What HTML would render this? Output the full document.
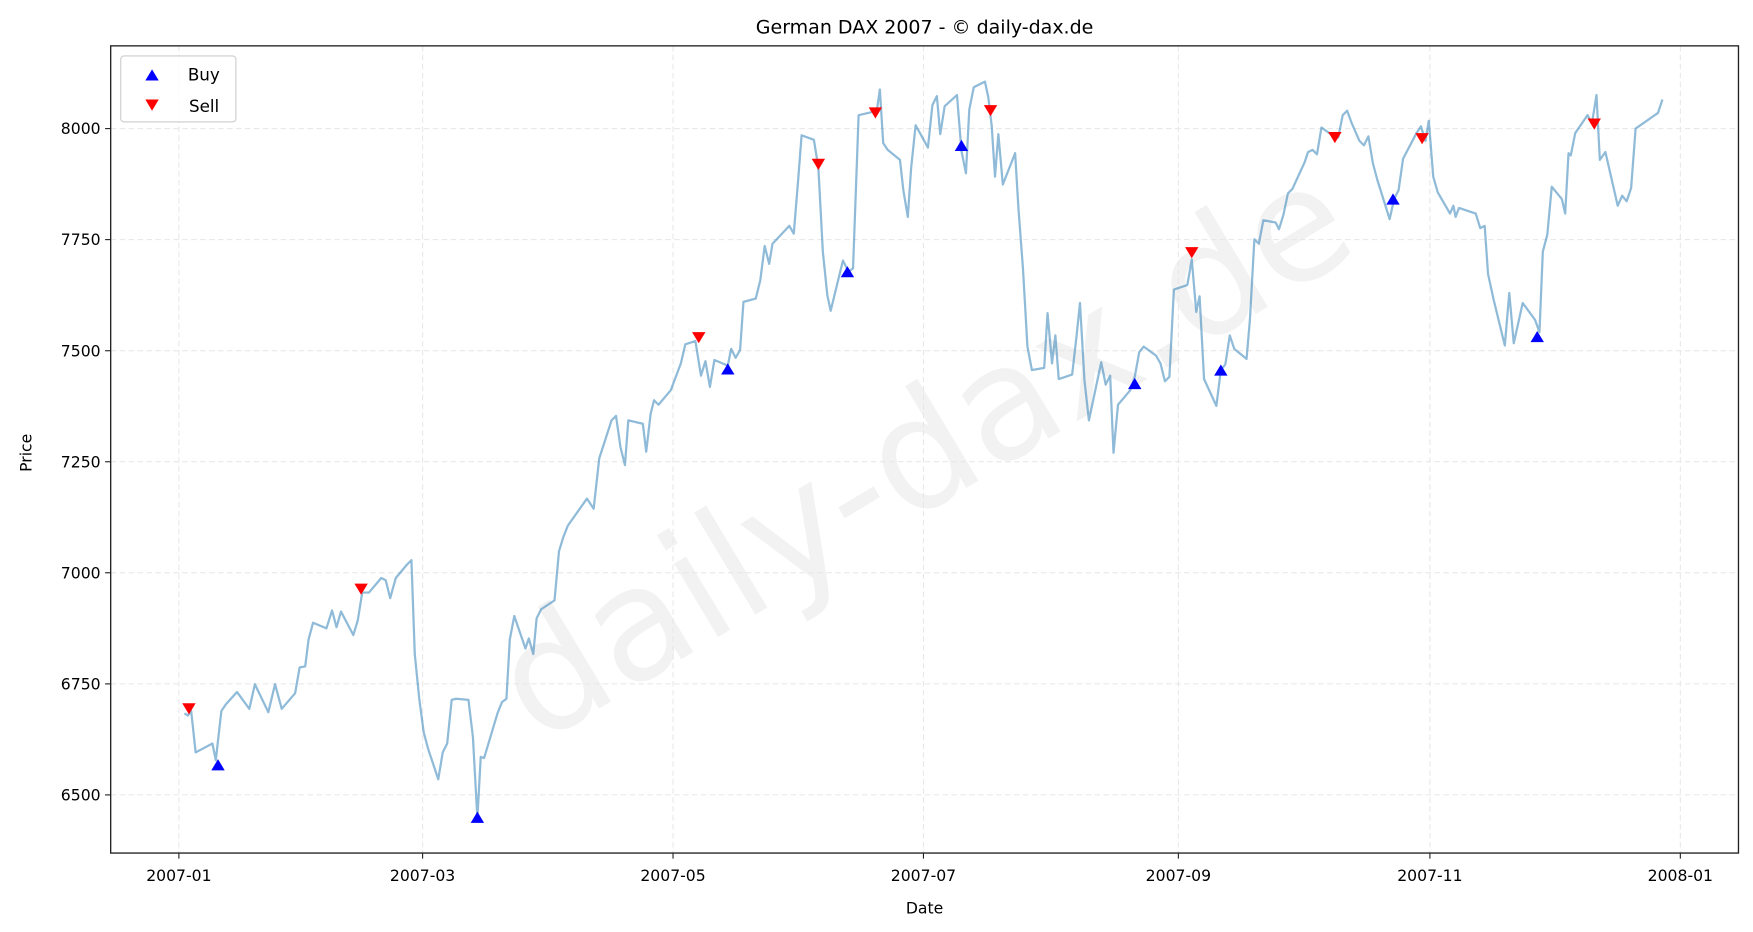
<!DOCTYPE html>
<html><head><meta charset="utf-8"><style>html,body{margin:0;padding:0;background:#fff}svg{display:block}</style></head>
<body>
<svg width="1753" height="932" viewBox="0 0 1568 833.6" xmlns="http://www.w3.org/2000/svg" font-family="DejaVu Sans, Liberation Sans, sans-serif">
<rect width="1568" height="834" fill="#fff"/>
<text x="850" y="445" font-size="140" fill="#000" fill-opacity="0.05" text-anchor="middle" transform="rotate(-31 850 445)">daily-dax.de</text>
<g stroke="#e6e6e6" stroke-dasharray="5,3" stroke-width="0.9">
<line x1="99" x2="1555" y1="711" y2="711"/><line x1="99" x2="1555" y1="611.7" y2="611.7"/><line x1="99" x2="1555" y1="512.3" y2="512.3"/><line x1="99" x2="1555" y1="413" y2="413"/><line x1="99" x2="1555" y1="313.7" y2="313.7"/><line x1="99" x2="1555" y1="214.3" y2="214.3"/><line x1="99" x2="1555" y1="115" y2="115"/>
<line y1="41" y2="763" x1="160" x2="160"/><line y1="41" y2="763" x1="378" x2="378"/><line y1="41" y2="763" x1="602" x2="602"/><line y1="41" y2="763" x1="826" x2="826"/><line y1="41" y2="763" x1="1054" x2="1054"/><line y1="41" y2="763" x1="1279" x2="1279"/><line y1="41" y2="763" x1="1503" x2="1503"/>
</g>
<polyline fill="none" stroke="#1f77b4" stroke-opacity="0.5" stroke-width="2" stroke-linejoin="round" points="165,638 168,640 171,636 175,673 190,665 193,680 198,636 202,630 212,619 223,634 228,612 240,637 246,612 252,634 264,620 268,597 273,596 276,572 280,557 292,562 297,546 301,561 305,547 316,568 320,555 324,530 330,530 341,517 345,519 349,535 354,517 364,505 368,501 371,585 375,625 379,655 383,670 392,697 396,673 400,665 404,626 408,625 419,626 423,659 427,732 430,677 433,678 445,638 449,628 453,625 456,572 460,551 470,580 473,571 477,585 480,553 484,545 496,537 500,493 504,480 508,470 525,446 531,455 536,410 547,376 551,372 555,400 559,416 562,376 575,379 578,404 582,370 585,358 589,362 600,349 609,325 613,308 622,305 627,336 631,323 635,346 639,322 651,327 654,312 658,320 662,313 665,270 676,267 680,251 684,220 688,236 691,218 706,202 710,209 714,160 717,121 728,125 732,150 736,225 740,264 743,278 754,233 759,243 763,240 768,103 781,100 784,101 787,80 790,128 794,134 805,143 808,170 812,194 815,150 819,112 830,132 834,94 838,86 841,120 845,95 856,85 860,135 864,155 867,98 871,78 881,73 884,87 887,112 890,158 893,120 897,165 908,137 911,187 915,240 919,310 923,331 934,329 937,280 941,325 944,300 947,339 959,335 963,300 966,271 970,340 974,376 985,324 989,344 993,336 996,405 1000,362 1011,349 1015,337 1019,315 1023,310 1034,318 1038,325 1042,341 1046,337 1050,259 1062,255 1066,232 1070,279 1073,265 1077,339 1088,363 1092,331 1096,326 1100,300 1104,312 1115,321 1118,286 1122,214 1126,218 1130,197 1141,199 1144,205 1148,192 1152,173 1156,169 1167,145 1170,136 1174,134 1178,138 1182,114 1193,122 1197,123 1201,103 1205,99 1209,110 1216,126 1220,130 1224,122 1228,146 1232,161 1243,196 1247,178 1251,170 1255,142 1267,119 1271,113 1275,126 1278,108 1282,158 1286,172 1297,191 1300,184 1302,194 1305,186 1317,190 1320,191 1324,204 1328,202 1331,245 1336,268 1346,309 1350,262 1354,307 1358,289 1362,271 1373,286 1377,297 1380,225 1384,210 1388,167 1397,178 1400,191 1403,137 1405,139 1409,119 1420,103 1424,110 1428,85 1431,143 1436,136 1447,184 1451,175 1455,180 1459,168 1463,115 1483,101 1487,89"/>
<g fill="#ff0000">
<path d="M-6,-5 L6,-5 L0,5Z" transform="translate(169,634)"/><path d="M-6,-5 L6,-5 L0,5Z" transform="translate(323,527)"/><path d="M-6,-5 L6,-5 L0,5Z" transform="translate(625,302)"/><path d="M-6,-5 L6,-5 L0,5Z" transform="translate(732,147)"/><path d="M-6,-5 L6,-5 L0,5Z" transform="translate(783,101)"/><path d="M-6,-5 L6,-5 L0,5Z" transform="translate(886,99)"/><path d="M-6,-5 L6,-5 L0,5Z" transform="translate(1066,226)"/><path d="M-6,-5 L6,-5 L0,5Z" transform="translate(1194,123)"/><path d="M-6,-5 L6,-5 L0,5Z" transform="translate(1272,124)"/><path d="M-6,-5 L6,-5 L0,5Z" transform="translate(1426,111)"/>
</g>
<g fill="#0000ff">
<path d="M-6,5 L6,5 L0,-5Z" transform="translate(195,684)"/><path d="M-6,5 L6,5 L0,-5Z" transform="translate(427,731)"/><path d="M-6,5 L6,5 L0,-5Z" transform="translate(651,330)"/><path d="M-6,5 L6,5 L0,-5Z" transform="translate(758,243)"/><path d="M-6,5 L6,5 L0,-5Z" transform="translate(860,130)"/><path d="M-6,5 L6,5 L0,-5Z" transform="translate(1015,343)"/><path d="M-6,5 L6,5 L0,-5Z" transform="translate(1092,331)"/><path d="M-6,5 L6,5 L0,-5Z" transform="translate(1246,178)"/><path d="M-6,5 L6,5 L0,-5Z" transform="translate(1375,301)"/>
</g>
<rect x="99" y="41" width="1456" height="722" fill="none" stroke="#222" stroke-width="1.2"/>
<g stroke="#222" stroke-width="1">
<line x1="94" x2="99" y1="711" y2="711"/><line x1="94" x2="99" y1="611.7" y2="611.7"/><line x1="94" x2="99" y1="512.3" y2="512.3"/><line x1="94" x2="99" y1="413" y2="413"/><line x1="94" x2="99" y1="313.7" y2="313.7"/><line x1="94" x2="99" y1="214.3" y2="214.3"/><line x1="94" x2="99" y1="115" y2="115"/>
<line y1="763" y2="768" x1="160" x2="160"/><line y1="763" y2="768" x1="378" x2="378"/><line y1="763" y2="768" x1="602" x2="602"/><line y1="763" y2="768" x1="826" x2="826"/><line y1="763" y2="768" x1="1054" x2="1054"/><line y1="763" y2="768" x1="1279" x2="1279"/><line y1="763" y2="768" x1="1503" x2="1503"/>
</g>
<g font-size="14" fill="#000" text-anchor="end">
<text x="90" y="716">6500</text><text x="90" y="616.7">6750</text><text x="90" y="517.3">7000</text><text x="90" y="418">7250</text><text x="90" y="318.7">7500</text><text x="90" y="219.3">7750</text><text x="90" y="120">8000</text>
</g>
<g font-size="14" fill="#000" text-anchor="middle">
<text x="160" y="788">2007-01</text><text x="378" y="788">2007-03</text><text x="602" y="788">2007-05</text><text x="826" y="788">2007-07</text><text x="1054" y="788">2007-09</text><text x="1279" y="788">2007-11</text><text x="1503" y="788">2008-01</text>
<text x="827" y="817">Date</text>
<text x="827" y="30" font-size="17">German DAX 2007 - © daily-dax.de</text>
<text x="28" y="405" transform="rotate(-90 28 405)">Price</text>
</g>
<rect x="108" y="50" width="103" height="59" rx="3" fill="#fff" fill-opacity="0.8" stroke="#ccc"/>
<path d="M130,72 L142,72 L136,62Z" fill="#0000ff"/>
<path d="M130,89 L142,89 L136,99Z" fill="#ff0000"/>
<text x="168" y="72" font-size="15">Buy</text>
<text x="169" y="100" font-size="15">Sell</text>
</svg>
</body></html>
